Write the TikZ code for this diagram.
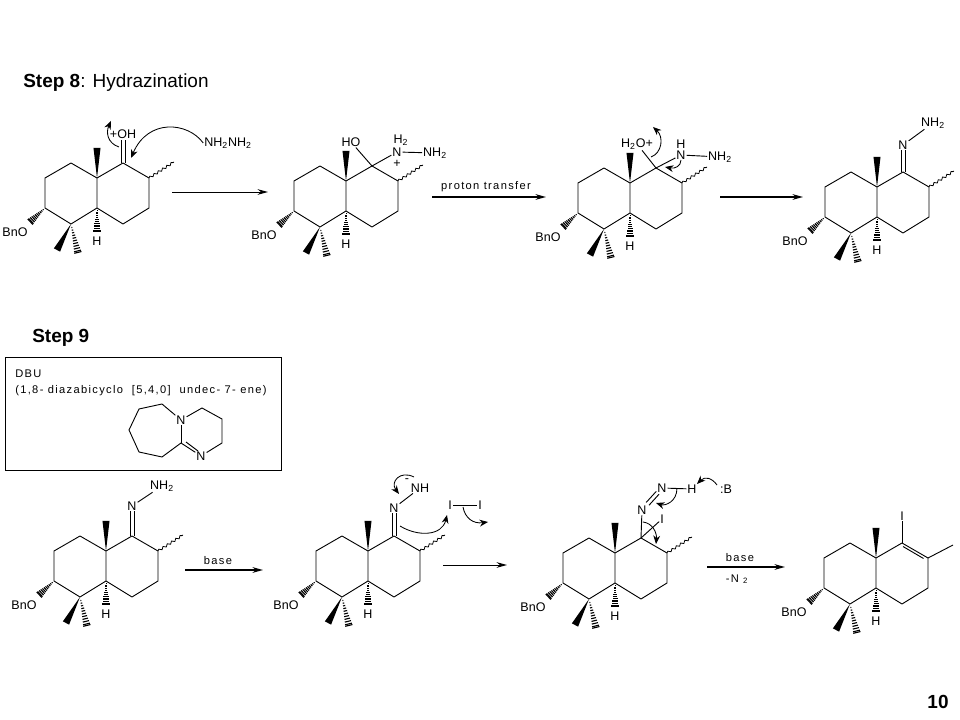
\documentclass[tikz,border=0pt]{standalone}
\usepackage{fontspec}
\setmainfont{Liberation Sans}
\newfontfamily\spacedfont[LetterSpace=12]{Liberation Sans}
\usetikzlibrary{calc,arrows.meta,decorations.pathmorphing}

\tikzset{
    bondline/.style={line width=0.65pt},
    atom/.style={font=\fontsize{8.9}{10}\selectfont, inner sep=0.6pt},
    steplabel/.style={font=\fontsize{13.5}{15}\selectfont, anchor=west, inner sep=0pt},
    spacedlabel/.style={font=\spacedfont\fontsize{7.9}{10}\selectfont, inner sep=0pt},
    wavybond/.style={line width=0.55pt, decorate, decoration={snake, amplitude=0.8pt, segment length=3.6pt}},
    curvearrow/.style={line width=0.6pt, -{Stealth[length=2.1mm,width=1.7mm]}},
    thinarrow/.style={line width=0.7pt, -{Stealth[length=2.6mm,width=1.4mm]}},
    heavyarrow/.style={line width=1.4pt, -{Stealth[length=2.6mm,width=1.4mm]}}
}

% solid and hashed stereo bonds
\newcommand{\wedgebond}[2]{\fill (#1) -- ($(#2)!2.5pt!90:(#1)$) -- ($(#2)!2.5pt!-90:(#1)$) -- cycle;}
\newcommand{\hashbond}[2]{
    \foreach \t in {0.12,0.21,0.30,0.39,0.48,0.57,0.66,0.75,0.84,0.93,0.98}{
        \draw[line width=0.8pt] ($(#1)!\t!(#2)!\t*2.7pt!90:(#2)$) -- ($(#1)!\t!(#2)!\t*2.7pt!-90:(#2)$);
    }
}
% the ring system with its methyl groups, H and BnO
\newcommand{\decalin}[3]{
    \begin{scope}[shift={(#2,#3)}]
        \coordinate (#1a) at (0,0);
        \coordinate (#1tl) at (-26,-15);
        \coordinate (#1la) at (-52,0);
        \coordinate (#1lb) at (-52,30);
        \coordinate (#1b) at (-26,46);
        \coordinate (#1j) at (0,30);
        \coordinate (#1ca) at (26,-15);
        \coordinate (#1cb) at (52,0);
        \coordinate (#1cc) at (52,30);
        \coordinate (#1cd) at (26,46);
        \coordinate (#1me) at (0,-30);
        \coordinate (#1wd) at (-40,72);
        \coordinate (#1hs) at (-19,75);
        \coordinate (#1hh) at (0,54);
        \coordinate (#1ho) at (-67,44);
        \node[atom] (#1h) at (0,63) {H};
        \node[atom] (#1bno) at (-82,54) {BnO};
        \draw[bondline, line join=round] (#1a) -- (#1tl) -- (#1la) -- (#1lb) -- (#1b) -- (#1j) -- (#1a)
            -- (#1ca) -- (#1cb) -- (#1cc) -- (#1cd) -- (#1j);
        \wedgebond{#1a}{#1me}
        \wedgebond{#1b}{#1wd}
        \hashbond{#1b}{#1hs}
        \hashbond{#1j}{#1hh}
        \hashbond{#1lb}{#1ho}
    \end{scope}
}
\newcommand{\wavytail}[1]{
    \coordinate (#1wv) at ($(#1cb)+(25,-16)$);
    \draw[wavybond] (#1cb) -- (#1wv);
}

\begin{document}
\begin{tikzpicture}[x=0.025cm,y=-0.025cm]
    \useasboundingbox (0,0) rectangle (960,720);

    \node[steplabel] (step8) at (23,83) {\textbf{Step 8}: Hydrazination};
    \node[steplabel] (step9) at (32,338) {\textbf{Step 9}};
    \node[font=\fontsize{13.5}{15}\selectfont\bfseries, inner sep=0pt] (pagenum) at (938,702) {10};

    % step 8, ketone
    \decalin{m1}{97}{178}
    \wavytail{m1}
    \node[atom] (m1oh) at (123,134) {+OH};
    \draw[bondline] ($(m1ca)+(-2,0)$) -- ($(m1oh.south)+(-2,0)$);
    \draw[bondline] ($(m1ca)+(2,0)$) -- ($(m1oh.south)+(2,0)$);
    \node[atom] (m1nn) at (228,143) {NH\textsubscript{2}NH\textsubscript{2}};
    \coordinate (m1pa) at (119,147);
    \coordinate (m1pb) at (111,121);
    \draw[curvearrow] (m1pa) .. controls (107,143) and (106,132) .. (m1pb);
    \coordinate (m1pc) at (131,158);
    \draw[curvearrow] (m1nn.west) .. controls (188,122) and (148,118) .. (m1pc);
    \coordinate (ar1a) at (172,192);
    \coordinate (ar1b) at (268,192);
    \draw[thinarrow] (ar1a) -- (ar1b);

    % step 8, addition
    \decalin{m2}{346}{181}
    \wavytail{m2}
    \node[atom] (m2ho) at (351,142) {HO};
    \node[atom] (m2hh) at (401,140) {H\textsubscript{2}};
    \node[atom] (m2n) at (397,152) {N};
    \node[atom, text height=5pt, text depth=0pt, inner sep=0pt] (m2pl) at (397,164) {+};
    \node[atom] (m2nh) at (435,153) {NH\textsubscript{2}};
    \draw[bondline] (m2ca) -- (m2ho);
    \draw[bondline] (m2ca) -- (m2n);
    \draw[bondline] (m2n) -- (m2nh);
    \node[spacedlabel] (lbproton) at (486,187) {proton transfer};
    \coordinate (ar2a) at (432,197);
    \coordinate (ar2b) at (546,197);
    \draw[heavyarrow] (ar2a) -- (ar2b);

    % step 8, loss of water
    \decalin{m3}{630}{183}
    \wavytail{m3}
    \node[atom] (m3wa) at (637,144) {H\textsubscript{2}O+};
    \node[atom] (m3hh) at (681,144) {H};
    \node[atom] (m3n) at (681,155) {N};
    \node[atom] (m3nh) at (720,157) {NH\textsubscript{2}};
    \draw[bondline] (m3ca) -- (m3wa);
    \draw[bondline] (m3ca) -- (m3n);
    \draw[bondline] (m3n) -- (m3nh);
    \coordinate (m3pa) at (651,157);
    \coordinate (m3pb) at (653,127);
    \draw[curvearrow] (m3pa) .. controls (662,153) and (664,137) .. (m3pb);
    \coordinate (m3pc) at (681,160);
    \coordinate (m3pd) at (665,167);
    \draw[curvearrow] (m3pc) .. controls (681,166) and (675,169) .. (m3pd);
    \coordinate (ar3a) at (720,197);
    \coordinate (ar3b) at (803,197);
    \draw[heavyarrow] (ar3a) -- (ar3b);

    % step 8, hydrazone
    \decalin{m4}{877}{187}
    \wavytail{m4}
    \node[atom] (m4n) at (903,145) {N};
    \node[atom] (m4nh) at (933,123) {NH\textsubscript{2}};
    \draw[bondline] ($(m4ca)+(-2,0)$) -- ($(m4n.south)+(-2,0)$);
    \draw[bondline] ($(m4ca)+(2,0)$) -- ($(m4n.south)+(2,0)$);
    \draw[bondline] (m4n) -- (m4nh);

    % reagent box
    \node[draw, line width=0.7pt, minimum width=6.88cm, minimum height=2.8cm, inner sep=0pt] (dbubox) at (143.5,414) {};
    \node[spacedlabel, anchor=west] (dbuname) at (15,374) {DBU};
    \node[spacedlabel, anchor=west] (dbufull) at (15,391) {(1,8- diazabicyclo\ \ [5,4,0]\ \ undec- 7- ene)};
    \node[atom] (dbun) at (181,420) {N};
    \node[atom] (dbum) at (201,456) {N};
    \coordinate (dbua) at (202,408);
    \coordinate (dbub) at (222,419);
    \coordinate (dbuc) at (222,443);
    \coordinate (dbud) at (181,443);
    \coordinate (dbue) at (162,404);
    \coordinate (dbuf) at (139,409);
    \coordinate (dbug) at (129,430);
    \coordinate (dbuh) at (139,452);
    \coordinate (dbui) at (162,457);
    \draw[bondline] (dbun) -- (dbua) -- (dbub) -- (dbuc) -- (dbum);
    \draw[bondline] (dbun) -- (dbud);
    \draw[bondline] (dbun) -- (dbue) -- (dbuf) -- (dbug) -- (dbuh) -- (dbui) -- (dbud);
    \draw[bondline] (dbud) -- (dbum);
    \draw[bondline] ($(dbud)+(5,-1)$) -- ($(dbum)+(-3,-5)$);

    % step 9, hydrazone
    \decalin{m5}{106}{551}
    \wavytail{m5}
    \node[atom] (m5n) at (132,506) {N};
    \node[atom] (m5nh) at (162,486) {NH\textsubscript{2}};
    \draw[bondline] ($(m5ca)+(-2,0)$) -- ($(m5n.south)+(-2,0)$);
    \draw[bondline] ($(m5ca)+(2,0)$) -- ($(m5n.south)+(2,0)$);
    \draw[bondline] (m5n) -- (m5nh);
    \node[spacedlabel] (lbbasea) at (218,561) {base};
    \coordinate (ar4a) at (185,570);
    \coordinate (ar4b) at (263,570);
    \draw[heavyarrow] (ar4a) -- (ar4b);

    % step 9, anion and iodine
    \decalin{m6}{368}{551}
    \wavytail{m6}
    \node[atom] (m6n) at (394,508) {N};
    \node[atom] (m6nh) at (420,488) {NH};
    \node[atom] (m6mi) at (407,481) {-};
    \node[atom] (m6ia) at (450,505) {I};
    \node[atom] (m6ib) at (480,505) {I};
    \draw[bondline] ($(m6ca)+(-2,0)$) -- ($(m6n.south)+(-2,0)$);
    \draw[bondline] ($(m6ca)+(2,0)$) -- ($(m6n.south)+(2,0)$);
    \draw[bondline] (m6n) -- (m6nh);
    \draw[bondline] (m6ia) -- (m6ib);
    \coordinate (m6pa) at (414,477);
    \coordinate (m6pb) at (399,494);
    \draw[curvearrow] (m6pa) .. controls (400,470) and (390,482) .. (m6pb);
    \coordinate (m6pc) at (400,526);
    \coordinate (m6pd) at (447,515);
    \draw[curvearrow] (m6pc) .. controls (418,537) and (442,536) .. (m6pd);
    \coordinate (m6pe) at (463,507);
    \coordinate (m6pf) at (488,522);
    \draw[curvearrow] (m6pe) .. controls (465,518) and (473,524) .. (m6pf);
    \coordinate (ar5a) at (443,565);
    \coordinate (ar5b) at (507,565);
    \draw[thinarrow] (ar5a) -- (ar5b);

    % step 9, iodo diazene
    \decalin{m7}{615}{553}
    \wavytail{m7}
    \node[atom] (m7na) at (642,510) {N};
    \node[atom] (m7nb) at (662,488) {N};
    \node[atom] (m7h) at (692,489) {H};
    \node[atom] (m7b) at (726,489) {:B};
    \node[atom] (m7i) at (662,519) {I};
    \draw[bondline] (m7ca) -- (m7na);
    \draw[bondline] (m7ca) -- (m7i);
    \draw[bondline] ($(m7na)!0.28!(m7nb)+(-1.4,-1.4)$) -- ($(m7na)!0.78!(m7nb)+(-1.4,-1.4)$);
    \draw[bondline] ($(m7na)!0.28!(m7nb)+(1.4,1.4)$) -- ($(m7na)!0.78!(m7nb)+(1.4,1.4)$);
    \draw[bondline] (m7nb) -- (m7h);
    \coordinate (m7pa) at (717,485);
    \coordinate (m7pb) at (697,484);
    \draw[curvearrow] (m7pa) .. controls (712,478) and (705,476) .. (m7pb);
    \coordinate (m7pc) at (677,488);
    \coordinate (m7pd) at (656,503);
    \draw[curvearrow] (m7pc) .. controls (677,502) and (665,506) .. (m7pd);
    \coordinate (m7pe) at (643,522);
    \coordinate (m7pf) at (656,544);
    \draw[curvearrow] (m7pe) .. controls (652,523) and (657,532) .. (m7pf);
    \node[spacedlabel] (lbbaseb) at (740,558) {base};
    \node[spacedlabel] (lbntwo) at (737,579) {-N \textsubscript{2}};
    \coordinate (ar6a) at (707,567);
    \coordinate (ar6b) at (785,567);
    \draw[heavyarrow] (ar6a) -- (ar6b);

    % step 9, vinyl iodide
    \decalin{m8}{876}{558}
    \node[atom] (m8i) at (902,516) {I};
    \coordinate (m8me) at (953,545);
    \draw[bondline] (m8ca) -- (m8i);
    \draw[bondline] (m8cb) -- (m8me);
    \draw[bondline] ($(m8ca)+(1,3.5)$) -- ($(m8cb)+(-4.5,0.5)$);
\end{tikzpicture}
\end{document}
